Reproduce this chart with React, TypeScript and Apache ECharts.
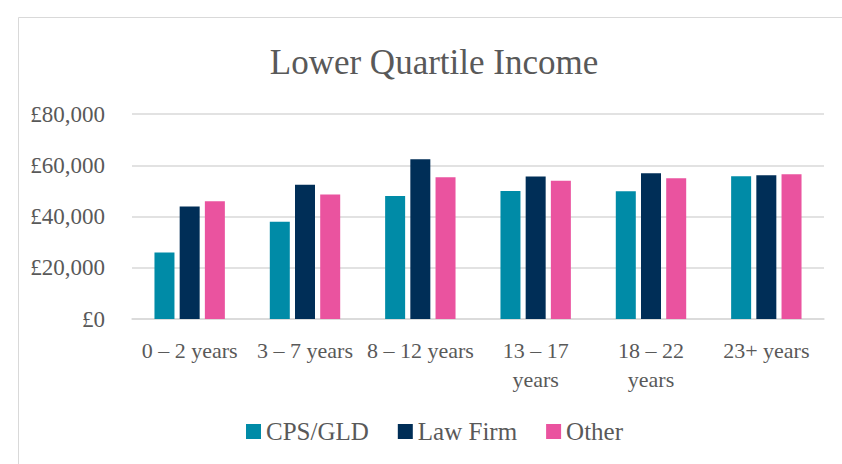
import React, { useEffect, useRef } from "react";
import * as echarts from "echarts";

const categories = ["0 – 2 years", "3 – 7 years", "8 – 12 years", "13 – 17 years", "18 – 22 years", "23+ years"];
const cpsGld = [26000, 38000, 48000, 50000, 49900, 55700];
const lawFirm = [43900, 52400, 62300, 55600, 56900, 56100];
const other = [46000, 48600, 55300, 54000, 54900, 56500];
const seriesNames = ["CPS/GLD", "Law Firm", "Other"];
const colors = ["#008BA7", "#002E57", "#EA539F"];

const FONT = "'Liberation Serif', serif";

export default function App() {
  const ref = useRef<HTMLDivElement>(null);
  useEffect(() => {
    document.body.style.margin = "0";
    const chart = echarts.init(ref.current!, null, { renderer: "svg" });
    const mk = (name: string, data: number[], color: string) => ({
      name,
      type: "bar",
      data,
      barWidth: 20,
      barGap: "26%",
      itemStyle: { color },
    });
    chart.setOption({
      animation: false,
      textStyle: { fontFamily: FONT },
      title: {
        text: "Lower Quartile Income",
        left: 429,
        top: 40,
        textAlign: "center",
        textStyle: { fontFamily: FONT, fontSize: 35, fontWeight: "normal", color: "#595959" },
      },
      graphic: [
        {
          type: "rect",
          shape: { x: 18.5, y: 17.5, width: 900, height: 600 },
          style: { fill: "none", stroke: "#D9D9D9", lineWidth: 1 },
          silent: true,
        },
      ],
      legend: {
        data: seriesNames,
        left: 241,
        top: 414,
        itemWidth: 15,
        itemHeight: 15,
        itemGap: 29,
        icon: "rect",
        textStyle: { fontFamily: FONT, fontSize: 25, color: "#595959" },
      },
      grid: { left: 132, right: 18, top: 114, bottom: 145, containLabel: false },
      xAxis: {
        type: "category",
        data: categories,
        axisTick: { show: false },
        axisLine: { lineStyle: { color: "#D9D9D9", width: 1.5 } },
        axisLabel: {
          interval: 0,
          fontFamily: FONT,
          fontSize: 22,
          color: "#595959",
          lineHeight: 29,
          margin: 17,
          formatter: (v: string) => (v.length > 12 ? v.replace(" years", "\nyears") : v),
        },
      },
      yAxis: {
        type: "value",
        min: 0,
        max: 80000,
        interval: 20000,
        axisLine: { show: false },
        axisTick: { show: false },
        splitLine: { lineStyle: { color: "#D9D9D9", width: 1.5 } },
        axisLabel: {
          fontFamily: FONT,
          fontSize: 23,
          color: "#595959",
          margin: 27,
          formatter: (v: number) => "£" + v.toLocaleString("en-GB"),
        },
      },
      series: [mk(seriesNames[0], cpsGld, colors[0]), mk(seriesNames[1], lawFirm, colors[1]), mk(seriesNames[2], other, colors[2])],
    });
    return () => chart.dispose();
  }, []);
  return <div ref={ref} style={{ width: 842, height: 464 }} />;
}
